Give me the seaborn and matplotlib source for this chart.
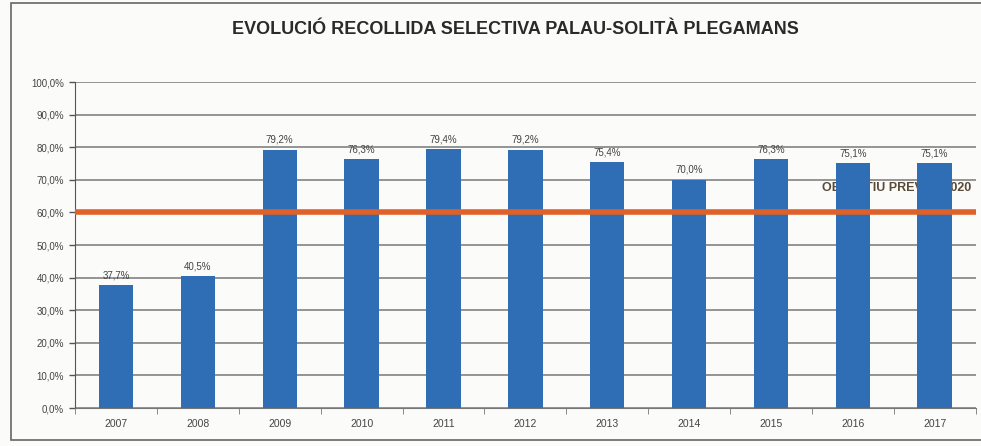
import pandas as pd
import matplotlib.pyplot as plt
import seaborn as sns
from matplotlib.patches import Rectangle

# Data
years = ['2007', '2008', '2009', '2010', '2011', '2012', '2013', '2014', '2015', '2016', '2017']
rates = [37.7, 40.5, 79.2, 76.3, 79.4, 79.2, 75.4, 70.0, 76.3, 75.1, 75.1]
target = 60.0
target_label = 'OBJECTIU PREVOL 2020'
title = 'EVOLUCIÓ RECOLLIDA SELECTIVA PALAU-SOLITÀ PLEGAMANS'

df = pd.DataFrame({'Any': years, 'Percentatge': rates})

sns.set_style('white')
plt.rcParams['font.family'] = ['Liberation Sans', 'DejaVu Sans']

fig = plt.figure(figsize=(9.81, 4.46), dpi=100)
fig.patch.set_facecolor('#fbfbf9')
ax = fig.add_axes([0.0765, 0.085, 0.918, 0.731])
ax.set_facecolor('#fbfbf9')

sns.barplot(x='Any', y='Percentatge', data=df, color='#2f6db5', width=0.42,
            saturation=1, linewidth=0, ax=ax, zorder=3)

# Gridlines
ax.set_ylim(0, 100)
ax.set_yticks(range(0, 101, 10))
ax.set_yticklabels([f'{v},0%' for v in range(0, 101, 10)], fontsize=7, color='#444444')
ax.yaxis.grid(True, color='#8c8c8c', linewidth=1.3, zorder=0)
ax.set_axisbelow(True)

# Target label sits behind the bars
ax.text(10.45, target + 7.5, target_label, ha='right', va='center', fontsize=9,
        fontweight='bold', color='#5a4a3a', zorder=2)
ax.axhline(target, color='#e0602a', linewidth=4, zorder=4)

# Value labels
for i, v in enumerate(rates):
    ax.text(i, v + 1.5, f'{v:.1f}%'.replace('.', ','), ha='center', va='bottom',
            fontsize=7, color='#444444', zorder=5)

ax.set_xlabel('')
ax.set_ylabel('')
ax.tick_params(axis='x', labelsize=7.5, colors='#444444', length=0, pad=8)
ax.tick_params(axis='y', length=4, width=1, color='#555555', left=True, pad=4)
ax.set_xlim(-0.5, 10.5)
for s in ['top', 'right']:
    ax.spines[s].set_visible(False)
ax.spines['left'].set_color('#555555')
ax.spines['bottom'].set_color('#777777')

# minor ticks between categories on the x axis
ax.set_xticks([i + 0.5 for i in range(-1, 11)], minor=True)
ax.tick_params(axis='x', which='minor', length=4, color='#777777', bottom=True)

fig.text(0.525, 0.933, title, ha='center', va='center', fontsize=13,
         fontweight='bold', color='#2a2a2a')

# Outer frame
fig.patches.append(Rectangle((0.011, 0.013), 0.99, 0.98, transform=fig.transFigure,
                             fill=False, edgecolor='#666666', linewidth=1.2))

fig.savefig('out.png', dpi=100, facecolor=fig.get_facecolor())
